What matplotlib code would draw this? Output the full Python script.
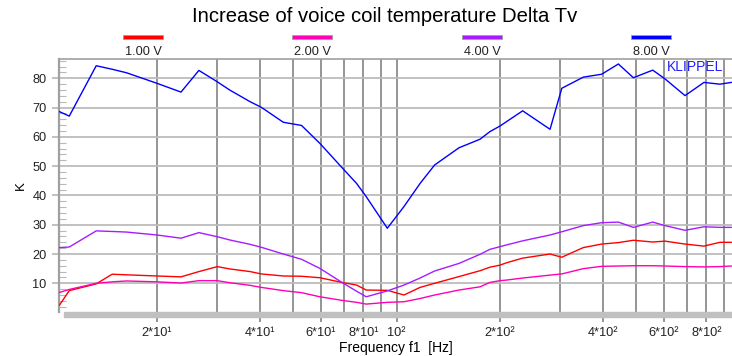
import matplotlib
matplotlib.use("Agg")
import matplotlib.pyplot as plt
from matplotlib.patches import Rectangle
from matplotlib.ticker import FixedLocator, FixedFormatter, MultipleLocator

plt.rcParams['font.family'] = ['Liberation Sans', 'DejaVu Sans']

freq = [10.4, 11.1, 13.3, 14.8, 16.3, 20.0, 23.5, 26.5, 30.0, 32.6, 37.4, 40.3,
        46.7, 52.8, 59.7, 69.9, 76.4, 81.5, 93.9, 105, 117, 129, 152, 175, 187,
        200, 209, 233, 280, 303, 350, 396, 443, 490, 558, 606, 693, 787, 876, 945]

tv_1v = [2.6, 7.5, 9.8, 13.1, 12.9, 12.5, 12.2, 14.0, 15.7, 14.9, 14.0, 13.2,
         12.5, 12.4, 11.9, 10.2, 9.4, 7.7, 7.6, 6.0, 8.6, 10.0, 12.3, 14.3, 15.5,
         16.2, 17.0, 18.6, 20.0, 18.9, 22.2, 23.4, 23.9, 24.7, 24.1, 24.4, 23.4, 22.7, 24.0, 24.0]
tv_2v = [6.9, 7.9, 10.0, 10.5, 10.8, 10.5, 10.1, 10.9, 10.9, 10.2, 9.3, 8.6,
         7.5, 6.8, 5.4, 4.1, 3.5, 2.9, 3.5, 3.7, 4.8, 6.0, 7.7, 8.8, 10.3,
         10.9, 11.1, 11.8, 12.8, 13.2, 15.0, 15.8, 15.9, 16.0, 16.0, 15.9, 15.7, 15.6, 15.7, 15.9]
tv_4v = [22.2, 22.4, 27.9, 27.7, 27.5, 26.5, 25.4, 27.3, 25.9, 24.8, 23.3, 22.3,
         20.0, 18.2, 15.1, 10.0, 7.3, 5.4, 7.4, 9.4, 11.8, 14.2, 16.8, 19.9, 21.6,
         22.5, 23.1, 24.5, 26.5, 27.6, 29.7, 30.7, 30.9, 29.1, 30.9, 29.7, 28.1, 29.3, 29.1, 29.1]
tv_8v = [68.6, 67.1, 84.3, 83.1, 81.9, 78.3, 75.3, 82.7, 78.8, 76.0, 72.0, 70.1,
         65.0, 63.9, 57.8, 49.0, 44.1, 39.6, 28.8, 36.2, 44.1, 50.4, 56.3, 59.2, 61.8,
         63.7, 65.2, 68.9, 62.6, 76.6, 80.4, 81.4, 84.9, 80.2, 82.8, 79.8, 74.1, 78.6, 78.0, 78.6]

labels = ['1.00 V', '2.00 V', '4.00 V', '8.00 V']
colors = ['#ff0000', '#ff00b4', '#a61cff', '#0000ff']
series = [tv_1v, tv_2v, tv_4v, tv_8v]

xtick_vals = [20, 40, 60, 80, 100, 200, 400, 600, 800]
xtick_text = ['2*10\u00b9', '4*10\u00b9', '6*10\u00b9', '8*10\u00b9', '10\u00b2',
              '2*10\u00b2', '4*10\u00b2', '6*10\u00b2', '8*10\u00b2']
xgrid = [20, 30, 40, 50, 60, 70, 80, 90, 100, 200, 300, 400, 500, 600, 700, 800, 900]

W, H = 732, 356
fig = plt.figure(figsize=(W / 100, H / 100), dpi=100)
ax = fig.add_axes([59 / W, 1 - 312 / H, (W - 59) / W, (312 - 59) / H])

# shadow bar under the axis
fig.patches.append(Rectangle((64 / W, 1 - 317 / H), (W - 64) / W, 5 / H,
                             transform=fig.transFigure, color='#c0c0c0', zorder=0))

for x in xgrid:
    ax.axvline(x, color='#8c8c8c', lw=1.3, zorder=1)
for y in range(10, 90, 10):
    ax.axhline(y, color='#bcbcbc', lw=1.3, zorder=1)

for vals, c in zip(series, colors):
    ax.plot(freq, vals, color=c, lw=1.0, zorder=3)

ax.set_xscale('log')
ax.set_xlim(10.36, 950)
ax.set_ylim(0.2, 86.6)

ax.xaxis.set_major_locator(FixedLocator(xtick_vals))
ax.xaxis.set_major_formatter(FixedFormatter(xtick_text))
ax.xaxis.set_minor_locator(FixedLocator([]))
ax.set_yticks(range(10, 90, 10))
ax.yaxis.set_minor_locator(MultipleLocator(2))
ax.tick_params(axis='x', direction='out', length=7.5, width=1.3, color='#8c8c8c',
               pad=3, labelsize=9.2, labelcolor='#222222')
ax.tick_params(axis='y', which='major', direction='out', length=5, width=1.3,
               color='#bcbcbc', pad=4, labelsize=9.2, labelcolor='#222222')
ax.tick_params(axis='y', which='minor', direction='in', length=5, width=0.8, color='#b8b8b8')

ax.spines['right'].set_visible(False)
ax.spines['bottom'].set_visible(False)
ax.spines['left'].set_color('#a0a0a0')
ax.spines['left'].set_linewidth(1.6)
ax.spines['top'].set_color('#a0a0a0')
ax.spines['top'].set_linewidth(1.2)

ax.set_xlabel('Frequency f1  [Hz]', fontsize=10, labelpad=2)
ax.set_ylabel('K', fontsize=9.5, labelpad=4)

fig.text(385 / W, 1 - 17 / H, 'Increase of voice coil temperature Delta Tv',
         ha='center', va='center', fontsize=14.6)

# legend bars across the top
centers = [143, 312, 482, 651]
for cx, lab, c in zip(centers, labels, colors):
    fig.patches.append(Rectangle(((cx - 20) / W, 1 - 39 / H), 40 / W, 4.5 / H,
                                 transform=fig.transFigure, facecolor=c,
                                 edgecolor='#a0a0a0', lw=0.6))
    fig.text(cx / W, 1 - 52 / H, lab, ha='center', va='center', fontsize=9.2,
             color='#222222')

fig.text(723 / W, 1 - 67 / H, 'KLIPPEL', ha='right', va='center', fontsize=10,
         color='#2020ff')

fig.savefig('out.png', dpi=100)
